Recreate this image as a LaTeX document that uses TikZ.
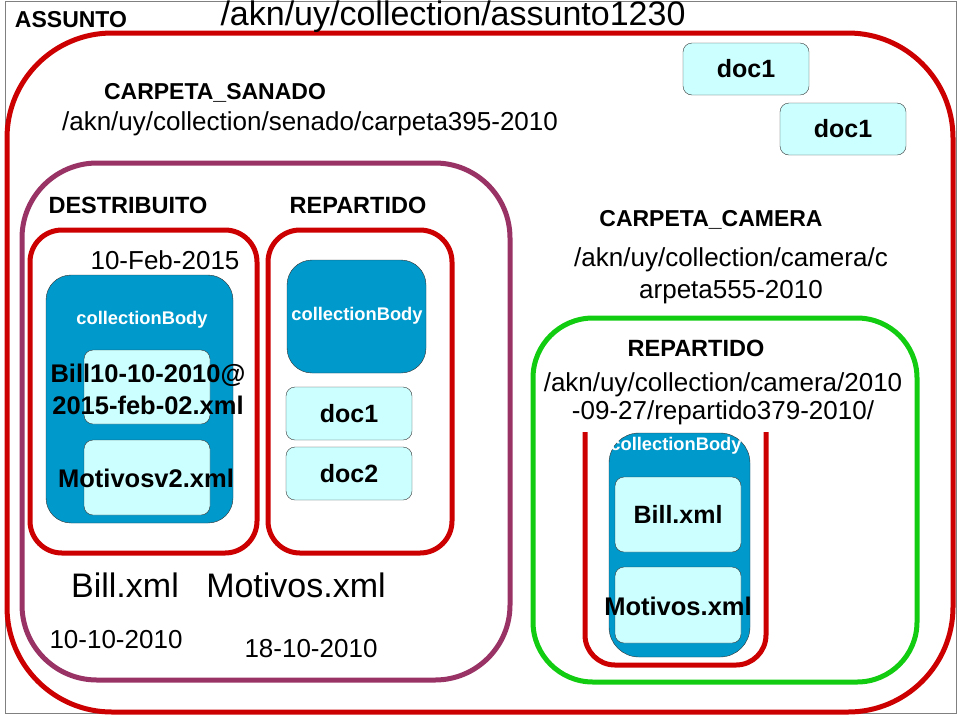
\documentclass[tikz,border=0pt]{standalone}
\usepackage{fontspec}
\setmainfont{Liberation Sans}
\usepackage{xcolor}
\usepackage{tikz}

\definecolor{akred}{HTML}{CC0000}
\definecolor{akpurple}{HTML}{993366}
\definecolor{akgreen}{HTML}{11CC11}
\definecolor{akblue}{HTML}{0099CC}
\definecolor{aklight}{HTML}{CCFFFF}

\begin{document}
\begin{tikzpicture}[
    x=1pt, y=-1pt,
    frame/.style={rectangle, draw, line width=5pt, inner sep=0pt},
    body/.style={rectangle, draw=black!80, fill=akblue, rounded corners=25pt, inner sep=0pt},
    doc/.style={rectangle, draw=black!80, fill=aklight, rounded corners=9pt, inner sep=0pt,
        minimum width=126pt, font=\fontsize{25}{28}\selectfont\bfseries},
    head/.style={inner sep=0pt, font=\fontsize{23.5}{27}\selectfont\bfseries},
    path/.style={inner sep=0pt, align=center, font=\fontsize{26}{30}\selectfont},
    big/.style={inner sep=0pt, font=\fontsize{34}{38}\selectfont},
    cbody/.style={inner sep=0pt, text=white, font=\fontsize{18.3}{21}\selectfont\bfseries},
]
\useasboundingbox (0,0) rectangle (960,716);
\draw[gray, line width=1pt] (5,1) rectangle (956,713);

% containers
\node[frame, draw=akred, rounded corners=105pt, minimum width=946pt, minimum height=679pt] (assunto) at (480,372.5) {};
\node[frame, draw=akpurple, rounded corners=75pt, minimum width=488pt, minimum height=517pt] (senado) at (266,421.5) {};
\node[frame, draw=akred, rounded corners=32pt, minimum width=227pt, minimum height=323pt] (destrib) at (143.5,391.5) {};
\node[frame, draw=akred, rounded corners=32pt, minimum width=184pt, minimum height=323pt] (repart) at (360,391.5) {};
\node[frame, draw=akgreen, rounded corners=60pt, minimum width=384pt, minimum height=364pt] (camera) at (725,500) {};
\coordinate (utop) at (585,432);
\coordinate (ubot) at (766,665);
\draw[akred, line width=5pt, rounded corners=30pt] (utop) |- (ubot) -- (766,432);

% collection bodies
\node[body, minimum width=187pt, minimum height=248pt] (body1) at (139.5,399) {};
\node[body, minimum width=139pt, minimum height=113pt] (body2) at (356.5,316.5) {};
\node[body, rounded corners=30pt, minimum width=141pt, minimum height=224pt] (body3) at (679.5,545) {};

% documents
\node[doc, minimum height=74pt] (billA) at (147,387) {};
\node[doc, minimum height=75pt] (motA) at (147,477.5) {};
\node[doc, minimum height=53pt] (rdoc1) at (349,413.5) {doc1};
\node[doc, minimum height=53pt] (rdoc2) at (349,473.5) {doc2};
\node[doc, minimum height=52pt] (tdoc1) at (746,69) {doc1};
\node[doc, minimum height=52pt] (tdoc2) at (843,129) {doc1};
\node[doc, minimum height=75pt] (billB) at (678,514.5) {Bill.xml};
\node[doc, minimum height=76pt] (motB) at (678,605) {};

% labels
\node[head, font=\fontsize{23}{27}\selectfont\bfseries] (lassunto) at (71,20) {ASSUNTO};
\node[big] (lassuntouri) at (453,17) {/akn/uy/collection/assunto1230};
\node[head, font=\fontsize{23}{27}\selectfont\bfseries] (lsanado) at (215,93) {CARPETA\_SANADO};
\node[path] (lsanadouri) at (310,124) {/akn/uy/collection/senado/carpeta395-2010};
\node[head] (ldestrib) at (128,205) {DESTRIBUITO};
\node[head] (lrepart) at (358,205) {REPARTIDO};
\node[path] (ldate) at (165,260) {10-Feb-2015};
\node[cbody] (lbody1) at (142,320) {collectionBody};
\node[cbody] (lbody2) at (357,316) {collectionBody};
\node[cbody] (lbody3) at (676,446) {collectionBody};
\node[inner sep=0pt, align=center, font=\fontsize{25.5}{32}\selectfont\bfseries] (lbillA) at (148,389) {Bill10-10-2010@\\2015-feb-02.xml};
\node[inner sep=0pt, font=\fontsize{25.5}{28}\selectfont\bfseries] (lmotA) at (146,478) {Motivosv2.xml};
\node[big] (lbill) at (125,585) {Bill.xml};
\node[big] (lmot) at (296,585) {Motivos.xml};
\node[path] (lbilldate) at (116,640) {10-10-2010};
\node[path] (lmotdate) at (311,649) {18-10-2010};
\node[head, font=\fontsize{23}{27}\selectfont\bfseries] (lcamera) at (711,220) {CARPETA\_CAMERA};
\node[path, font=\fontsize{26}{32}\selectfont] (lcamerauri) at (731,276) {/akn/uy/collection/camera/c\\arpeta555-2010};
\node[head] (lrepartB) at (696,348) {REPARTIDO};
\node[path, font=\fontsize{26}{28}\selectfont] (lrepartBuri) at (723,399) {/akn/uy/collection/camera/2010\\-09-27/repartido379-2010/};
\node[inner sep=0pt, font=\fontsize{25.5}{28}\selectfont\bfseries] (lmotB) at (678,606) {Motivos.xml};

\end{tikzpicture}
\end{document}
